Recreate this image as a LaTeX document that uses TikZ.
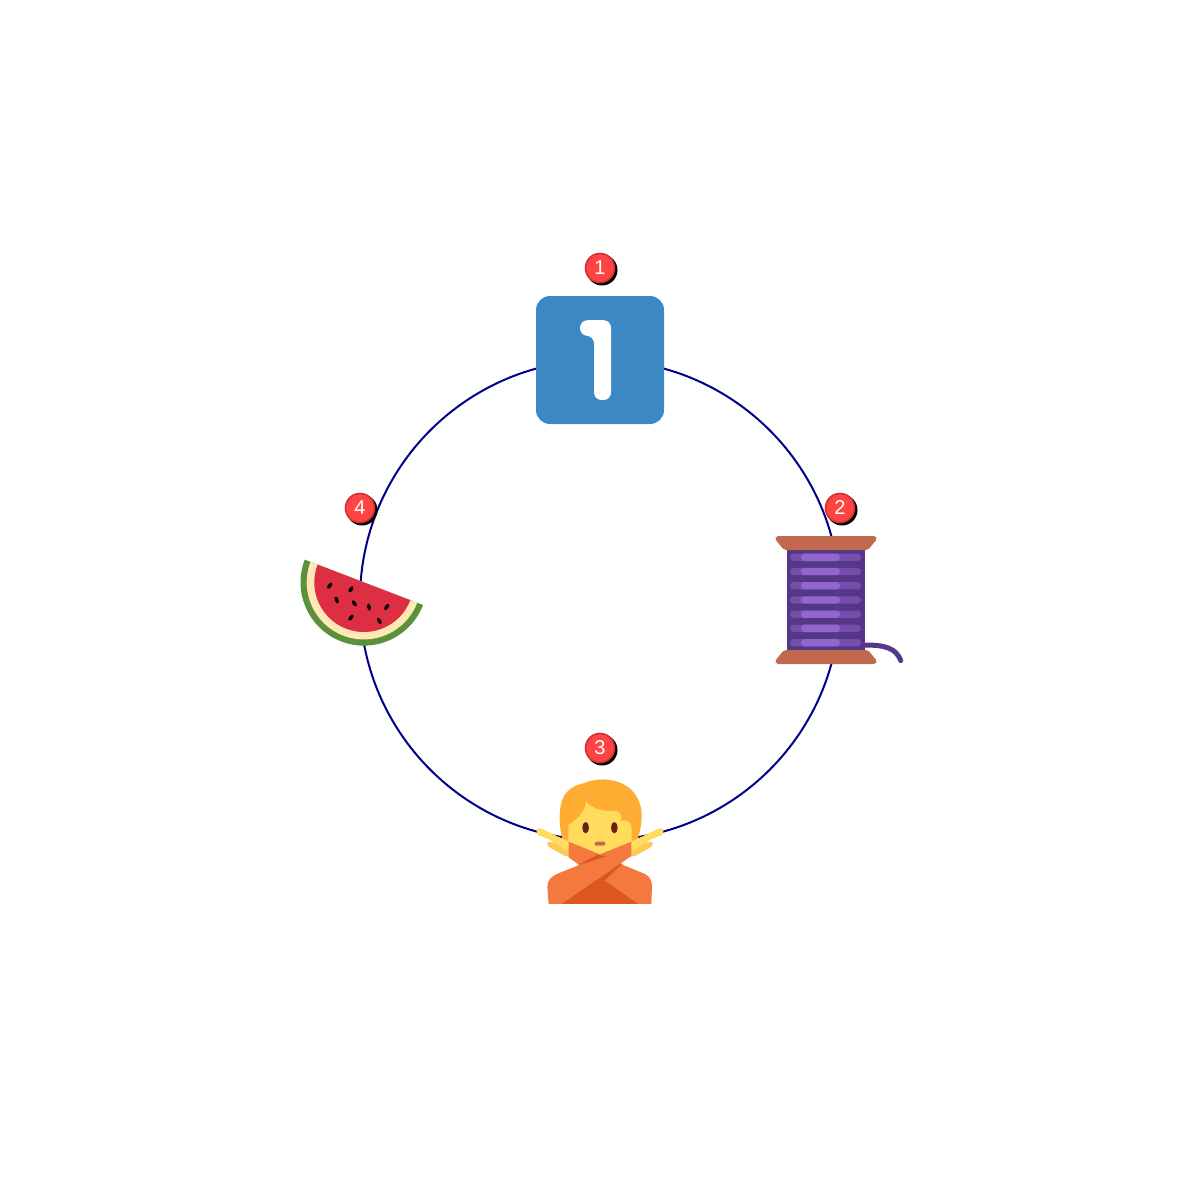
\documentclass[tikz,border=0pt]{standalone}
\usepackage{fontspec}
\setmainfont{Liberation Sans}
\definecolor{ringblue}{HTML}{00008B}
\definecolor{tileblue}{HTML}{3B88C3}
\definecolor{spoolbrown}{HTML}{C1694F}
\definecolor{threaddark}{HTML}{553788}
\definecolor{threadmid}{HTML}{744EAA}
\definecolor{threadlight}{HTML}{9266CC}
\definecolor{hairorange}{HTML}{FFAC33}
\definecolor{skin}{HTML}{FFDC5D}
\definecolor{skindark}{HTML}{F9CA55}
\definecolor{shirt}{HTML}{F4793F}
\definecolor{shirtdark}{HTML}{DD551F}
\definecolor{eyebrown}{HTML}{662113}
\definecolor{rind}{HTML}{5C913B}
\definecolor{creamy}{HTML}{FFE8B6}
\definecolor{melon}{HTML}{DD2E44}
\tikzset{
  ring/.style={draw=ringblue,line width=2pt},
  anchorbox/.style={minimum size=128pt,inner sep=0pt,outer sep=0pt},
  badgenode/.style={circle,minimum size=29pt,inner sep=0pt,fill=badgefill,draw=badgeedge,line width=1.6pt,text=white,font=\fontsize{20}{20}\selectfont},
  badgeshadow/.style={fill=black},
  zoomspace/.style={x=0.3333pt,y=-0.3333pt},
  seed/.style={fill=black}
}
\definecolor{badgefill}{HTML}{FF4444}
\definecolor{badgeedge}{HTML}{D32F2F}
\begin{document}
\begin{tikzpicture}[x=1pt,y=-1pt]
\useasboundingbox (0,0) rectangle (1200,1200);
\fill[white] (0,0) rectangle (1200,1200);
\node[anchorbox] (tile) at (600,360) {};
\node[anchorbox] (spool) at (840,600) {};
\node[anchorbox] (person) at (600,840) {};
\node[anchorbox] (melon) at (360,600) {};
% ring
\draw[ring] (tile.center) arc[start angle=-90,delta angle=90,radius=240];
\draw[ring] (spool.center) arc[start angle=0,delta angle=90,radius=240];
\draw[ring] (person.center) arc[start angle=90,delta angle=90,radius=240];
\draw[ring] (melon.center) arc[start angle=180,delta angle=90,radius=240];
% tile
\fill[tileblue,rounded corners=14pt] (536,296) rectangle (664,424);
\fill[white,rounded corners=7.5pt] (580,320.2) -- (611,320.2) -- (611,400) -- (594,400) -- (594,335.8) -- (580,335.8) -- cycle;
% spool
\fill[threaddark] (786.7,548) rectangle (864.7,652);
\foreach \yy in {557.3,571.5,585.7,600,614.2,628.4,642.7}{
  \fill[threadmid,rounded corners=3.5pt] (790,\yy-3.7) rectangle (861,\yy+3.7);
  \fill[threadlight,rounded corners=3.5pt] (801,\yy-3.7) rectangle (840,\yy+3.7);
}
\fill[spoolbrown,rounded corners=2pt] (776,536) -- (876,536) -- (877,539) -- (868,550) -- (784,550) -- (775,539) -- cycle;
\fill[spoolbrown,rounded corners=2pt] (784,650) -- (868,650) -- (877,661) -- (876,664) -- (776,664) -- (775,661) -- cycle;
\draw[threaddark,line width=5pt,line cap=round] (864.7,645) .. controls (885,645) and (896,648) .. (900.7,660.5);
% person
\begin{scope}[shift={(520,730)},zoomspace]
\fill[hairorange] (130,335) .. controls (118,300) and (115,250) .. (125,215) .. controls (135,180) and (165,165) .. (190,160) .. controls (225,145) and (275,142) .. (315,165) .. controls (350,185) and (368,225) .. (365,265) .. controls (363,295) and (358,315) .. (350,335) -- cycle;
\fill[skindark] (85,335) -- (140,345) -- (150,380) -- (135,378) -- (88,352) .. controls (80,345) and (80,338) .. (85,335) -- cycle;
\fill[skindark] (395,335) -- (340,345) -- (330,380) -- (345,378) -- (392,352) .. controls (400,345) and (400,338) .. (395,335) -- cycle;
\fill[skin] (50,305) .. controls (50,295) and (58,292) .. (65,296) -- (145,335) -- (148,372) -- (135,362) .. controls (120,345) and (100,338) .. (90,330) -- (55,315) .. controls (52,312) and (50,310) .. (50,305) -- cycle;
\fill[skin] (430,305) .. controls (430,295) and (422,292) .. (415,296) -- (335,335) -- (332,372) -- (345,362) .. controls (360,345) and (380,338) .. (390,330) -- (425,315) .. controls (428,312) and (430,310) .. (430,305) -- cycle;
\fill[skin] (145,340) -- (145,285) .. controls (175,265) and (195,245) .. (198,213) .. controls (215,240) and (260,245) .. (290,243) .. controls (305,250) and (308,265) .. (300,272) .. controls (320,268) and (335,275) .. (335,295) -- (335,340) -- (240,380) -- cycle;
\fill[eyebrown] (197,293) ellipse[x radius=10,y radius=17];
\fill[eyebrown] (283,293) ellipse[x radius=10,y radius=17];
\fill[spoolbrown,rounded corners=1.5pt] (224,335) rectangle (256,347);
\fill[shirtdark] (125,522) -- (180,400) -- (305,400) -- (355,522) -- cycle;
\fill[shirt] (146,335) -- (240,373) -- (240,400) -- (178,405) -- (146,382) -- cycle;
\fill[shirtdark] (176,404) -- (230,376) -- (262,376) -- (195,415) -- cycle;
\fill[shirt] (305,403) -- (375,432) .. controls (390,440) and (396,452) .. (396,470) -- (394,522) -- (355,522) -- (255,452) -- cycle;
\fill[shirt] (334,335) -- (334,378) -- (125,522) -- (86,522) -- (82,470) .. controls (82,450) and (95,438) .. (115,430) -- (178,405) -- (240,373) -- cycle;
\fill[shirtdark] (180,402) -- (232,375) -- (262,378) -- (200,398) -- cycle;
\end{scope}
% watermelon
\begin{scope}[shift={(285,485)},zoomspace]
\fill[rind] (414,360) arc[start angle=21,delta angle=180,radius=190] -- cycle;
\fill[creamy] (396.7,353.4) arc[start angle=21,delta angle=180,radius=171.5] -- cycle;
\fill[melon] (376,345.5) arc[start angle=21,delta angle=180,radius=149] -- cycle;
\foreach \sx/\sy/\rr in {134/302/-35,198/313/-35,155/345/20,208/355/35,252/366/10,305/366/-35,198/398/-40,283/408/30}{
  \fill[seed,rotate around={\rr:(\sx,\sy)}] (\sx,\sy) ellipse[x radius=5.5,y radius=10.5];
}
\end{scope}
% badges
\foreach \bx/\by/\bname in {600/268/one,840/508/two,600/748/three,360/508/four}{
  \fill[badgeshadow] (\bx+2,\by+2) circle[radius=15.5];
}
\node[badgenode] (badge1) at (600,268) {1};
\node[badgenode] (badge2) at (840,508) {2};
\node[badgenode] (badge3) at (600,748) {3};
\node[badgenode] (badge4) at (360,508) {4};
\end{tikzpicture}
\end{document}
